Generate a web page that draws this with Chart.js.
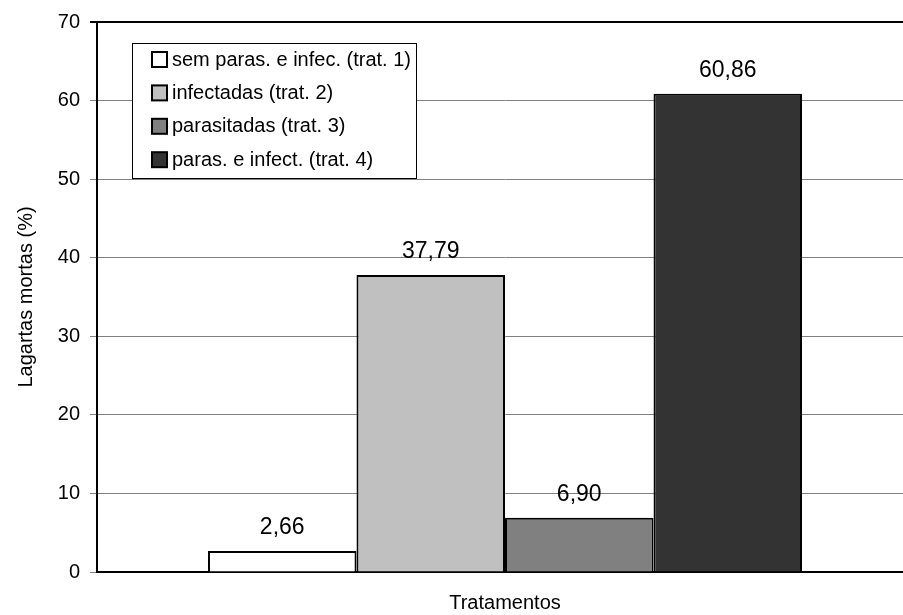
<!DOCTYPE html>
<html>
<head>
<meta charset="utf-8">
<title>Lagartas mortas</title>
<script src="https://cdn.jsdelivr.net/npm/chart.js@4"></script>
<style>
  body { margin: 0; background: #fff; overflow: hidden; }
  #wrap { width: 913px; height: 615px; }
</style>
</head>
<body>
<div id="wrap"><canvas id="grafico" width="913" height="615"></canvas></div>
<script>
// Mortalidade de lagartas por tratamento
const tratamentos = ['sem paras. e infec. (trat. 1)', 'infectadas (trat. 2)', 'parasitadas (trat. 3)', 'paras. e infect. (trat. 4)'];
const mortalidade = [2.66, 37.79, 6.90, 60.86];
const cores = ['#ffffff', '#c0c0c0', '#808080', '#333333'];
const ticksY = [0, 10, 20, 30, 40, 50, 60, 70];

const FONTE = '"Liberation Sans", Arial, sans-serif';

// valores escritos acima de cada barra
const rotulos = {
  id: 'rotulos',
  afterDatasetsDraw(chart) {
    const ctx = chart.ctx;
    ctx.save();
    ctx.font = '23px ' + FONTE;
    ctx.fillStyle = '#000';
    ctx.textAlign = 'center';
    ctx.textBaseline = 'alphabetic';
    chart.data.datasets.forEach((ds, i) => {
      const bar = chart.getDatasetMeta(i).data[0];
      ctx.fillText(ds.data[0].toFixed(2).replace('.', ','), bar.x, bar.y - 17);
    });
    ctx.restore();
  }
};

// legenda dentro da área do gráfico
const legendaInterna = {
  id: 'legendaInterna',
  afterDraw(chart) {
    const ctx = chart.ctx;
    const area = chart.chartArea;
    const x = area.left + 35, y = area.top + 21;
    const w = 284, h = 135;
    ctx.save();
    ctx.fillStyle = '#fff';
    ctx.fillRect(x, y, w, h);
    ctx.strokeStyle = '#000';
    ctx.lineWidth = 1;
    ctx.strokeRect(x + 0.5, y + 0.5, w, h);
    ctx.font = '20px ' + FONTE;
    ctx.textBaseline = 'middle';
    chart.data.datasets.forEach((ds, i) => {
      const cy = y + 16 + i * 33.4;
      ctx.fillStyle = ds.backgroundColor;
      ctx.fillRect(x + 20, cy - 7, 15, 15);
      ctx.lineWidth = 2;
      ctx.strokeStyle = '#000';
      ctx.strokeRect(x + 20, cy - 7, 15, 15);
      ctx.fillStyle = '#000';
      ctx.fillText(ds.label, x + 40, cy + 1);
    });
    ctx.restore();
  }
};

const datasets = tratamentos.map((nome, i) => ({
  label: nome,
  data: [mortalidade[i]],
  backgroundColor: cores[i],
  borderColor: '#000',
  borderWidth: 2,
  categoryPercentage: 0.728,
  barPercentage: 1
}));

new Chart(document.getElementById('grafico'), {
  type: 'bar',
  data: { labels: [''], datasets },
  options: {
    responsive: false,
    devicePixelRatio: 1,
    animation: false,
    layout: { padding: { top: 21, right: 0, bottom: 0, left: 0 } },
    plugins: {
      legend: { display: false },
      tooltip: { enabled: false }
    },
    scales: {
      x: {
        grid: { display: false },
        border: { color: '#000', width: 2 },
        ticks: { display: false },
        title: {
          display: true,
          text: 'Tratamentos',
          color: '#000',
          font: { family: FONTE, size: 20 },
          padding: { top: 0, bottom: 0 }
        },
        afterFit(scale) { scale.height = 43; }
      },
      y: {
        min: 0,
        max: 70,
        afterBuildTicks(scale) { scale.ticks = ticksY.map(v => ({ value: v })); },
        grid: {
          color: c => (c.tick && c.tick.value === 70 ? '#000' : '#808080'),
          lineWidth: c => (c.tick && c.tick.value === 70 ? 2 : 1),
          tickLength: 7
        },
        border: { color: '#000', width: 2 },
        ticks: {
          color: '#000',
          padding: 10,
          font: { family: FONTE, size: 20 }
        },
        title: {
          display: true,
          text: 'Lagartas mortas (%)',
          color: '#000',
          font: { family: FONTE, size: 20 },
          padding: { top: 14, bottom: 0 }
        },
        afterFit(scale) { scale.width = 97; }
      }
    }
  },
  plugins: [rotulos, legendaInterna]
});
</script>
</body>
</html>
